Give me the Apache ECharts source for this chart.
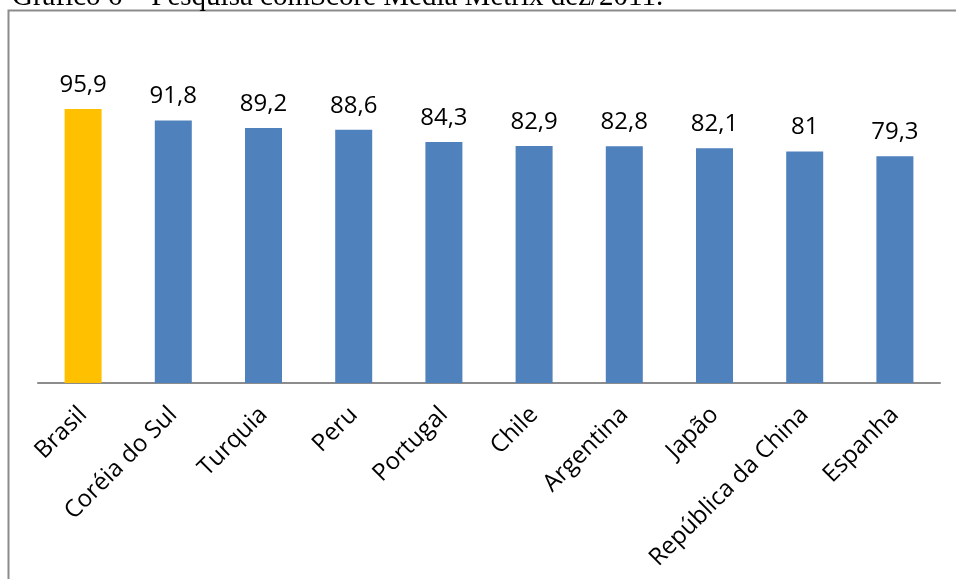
<!DOCTYPE html>
<html>
<head>
<meta charset="utf-8">
<script src="https://cdn.jsdelivr.net/npm/echarts@6/dist/echarts.min.js"></script>
<style>
  html, body { margin: 0; padding: 0; background: #ffffff; }
  #chart { width: 956px; height: 579px; }
</style>
</head>
<body>
<div id="chart"></div>
<script>
// comScore Media Metrix, dez/2011
const categories = ['Brasil', 'Coréia do Sul', 'Turquia', 'Peru', 'Portugal', 'Chile', 'Argentina', 'Japão', 'República da China', 'Espanha'];
const values = [95.9, 91.8, 89.2, 88.6, 84.3, 82.9, 82.8, 82.1, 81, 79.3];
const highlighted = 'Brasil';

const BLUE = '#4F81BD';
const GOLD = '#FFC000';
const LABEL_FONT = '"Open Sans", "Noto Sans", sans-serif';

const chart = echarts.init(document.getElementById('chart'), null, { renderer: 'canvas' });

const barData = categories.map((name, i) => ({
  value: values[i],
  itemStyle: { color: name === highlighted ? GOLD : BLUE }
}));

chart.setOption({
  backgroundColor: '#ffffff',
  animation: false,
  graphic: [
    {
      type: 'rect',
      silent: true,
      shape: { x: 8.5, y: 10.5, width: 1000, height: 700 },
      style: { fill: 'none', stroke: '#8c8c8c', lineWidth: 2 }
    },
    {
      type: 'text',
      silent: true,
      x: 12,
      y: -3,
      style: {
        text: 'Gráfico 6 – Pesquisa comScore Media Metrix dez/2011.',
        font: '29px "Liberation Serif", "Times New Roman", serif',
        fill: '#000000',
        verticalAlign: 'middle',
        align: 'left'
      }
    }
  ],
  grid: { left: 38, right: 16, top: 40, bottom: 196, containLabel: false },
  xAxis: {
    type: 'category',
    data: categories,
    axisLine: { show: true, lineStyle: { color: '#8c8c8c', width: 2 } },
    axisTick: { show: false },
    axisLabel: {
      interval: 0,
      rotate: 45,
      margin: 28,
      color: '#000000',
      fontSize: 24,
      fontFamily: LABEL_FONT
    }
  },
  yAxis: {
    type: 'value',
    min: 0,
    max: 120,
    show: false,
    splitLine: { show: false }
  },
  series: [{
    type: 'bar',
    data: barData,
    barWidth: 37,
    label: {
      show: true,
      position: 'top',
      distance: 12,
      color: '#000000',
      fontSize: 24,
      lineHeight: 24,
      fontFamily: LABEL_FONT,
      formatter: p => String(p.value).replace('.', ',')
    }
  }]
});
</script>
</body>
</html>
